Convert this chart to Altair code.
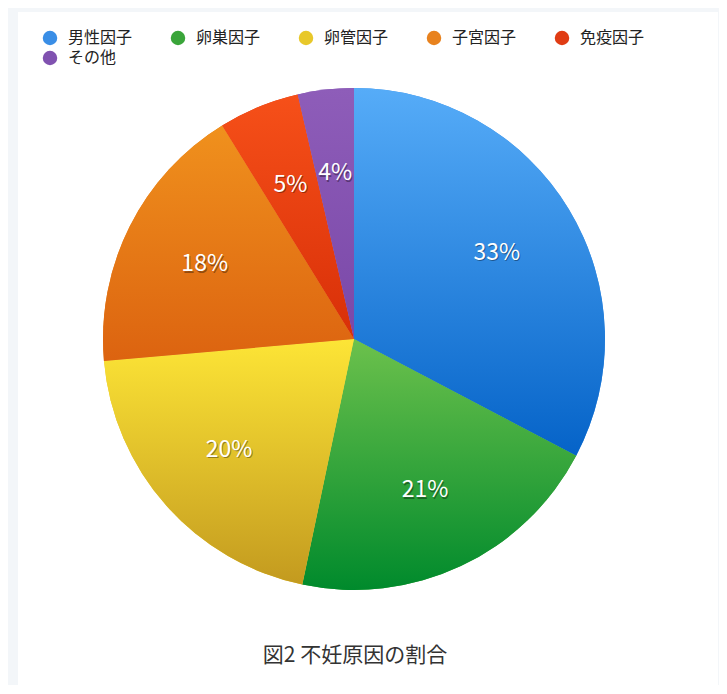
import altair as alt
import pandas as pd

# 不妊原因の割合 (in %)
causes = ['男性因子', '卵巣因子', '卵管因子', '子宮因子', '免疫因子', 'その他']
shares = [32.7, 20.6, 20.3, 17.6, 5.2, 3.6]
solid_colors = ['#3a8ee6', '#3aa53a', '#e8c82a', '#e8821e', '#e03c14', '#8052b0']
grad_top = ['#56acf8', '#6cc14c', '#fde536', '#f0911d', '#f65019', '#8e5db9']
grad_bottom = ['#0563c8', '#008a2c', '#c39a1f', '#dc6310', '#d82f08', '#7a48a8']

df = pd.DataFrame({'cause': causes, 'share': shares, 'idx': range(len(causes))})

FONT = 'Noto Sans CJK JP'
CX, CY, R = 336, 327, 251

base = alt.Chart(df).transform_window(
    cum='sum(share)', sort=[alt.SortField('idx')]
).transform_calculate(
    start='datum.cum - datum.share',
    mid='datum.cum - datum.share / 2',
    pct='datum.share / 100'
)

theta_scale = alt.Scale(domain=[0, 100])

# solid layer drives the legend
legend_layer = base.mark_arc(radius=R, x=CX, y=CY).encode(
    theta=alt.Theta('start:Q', scale=theta_scale),
    theta2='cum:Q',
    color=alt.Color('cause:N', sort=causes,
                    scale=alt.Scale(domain=causes, range=solid_colors),
                    legend=alt.Legend(title=None, orient='none', legendX=24, legendY=18,
                                      direction='horizontal', columns=5,
                                      symbolType='circle', symbolSize=210,
                                      labelFont=FONT, labelFontSize=16, labelColor='#222',
                                      columnPadding=37, rowPadding=4, labelOffset=10,
                                      symbolStrokeWidth=0))
)

# gradient slices on top
slices = []
for i, c in enumerate(causes):
    g = alt.Gradient(gradient='linear', x1=0, y1=0, x2=0, y2=1,
                     stops=[alt.GradientStop(color=grad_top[i], offset=0),
                            alt.GradientStop(color=grad_bottom[i], offset=1)])
    slices.append(
        base.transform_filter(alt.datum.cause == c).mark_arc(
            radius=R, x=CX, y=CY, fill=g
        ).encode(theta=alt.Theta('start:Q', scale=theta_scale), theta2='cum:Q')
    )

shadow = base.mark_text(radius=167, x=CX + 1, y=CY + 1.5, font=FONT, fontSize=23,
                        color='#000', opacity=0.35, baseline='middle').encode(
    theta=alt.Theta('mid:Q', scale=theta_scale),
    text=alt.Text('pct:Q', format='.0%')
)
labels = base.mark_text(radius=167, x=CX, y=CY, font=FONT, fontSize=23,
                        color='white', baseline='middle').encode(
    theta=alt.Theta('mid:Q', scale=theta_scale),
    text=alt.Text('pct:Q', format='.0%')
)

caption = alt.Chart(pd.DataFrame({'t': ['図2 不妊原因の割合']})).mark_text(
    font=FONT, fontSize=21, color='#333', baseline='middle'
).encode(x=alt.value(337), y=alt.value(644), text='t:N')

chart = alt.layer(legend_layer, *slices, shadow, labels, caption).properties(
    width=700, height=673,
    background='#f3f6f9',
    padding={'left': 10, 'top': 4, 'right': 1, 'bottom': 0},
    autosize=alt.AutoSizeParams(type='none')
).configure_view(fill='white', strokeWidth=0)

chart.save('out.html', embed_options={'renderer': 'svg', 'actions': False})
